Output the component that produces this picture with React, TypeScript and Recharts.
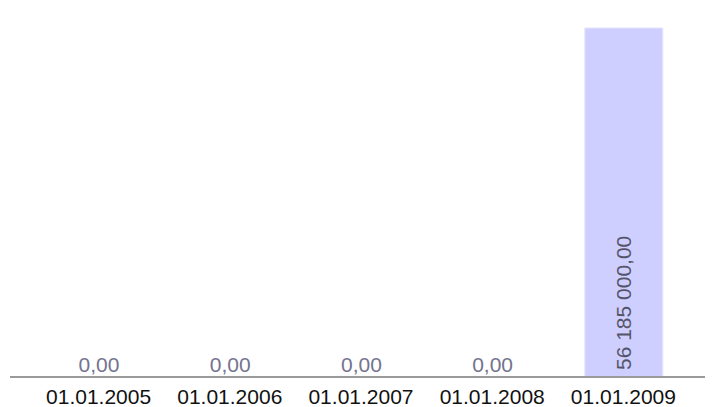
import { BarChart, Bar, XAxis, YAxis, LabelList } from "recharts";

const dates = ["01.01.2005", "01.01.2006", "01.01.2007", "01.01.2008", "01.01.2009"];
const amounts = [0, 0, 0, 0, 56185000];

const data = dates.map((d, i) => ({ date: d, amount: amounts[i] }));

const FONT = "'Liberation Sans', Arial, sans-serif";

// 56185000 -> "56 185 000,00"
const fmt = (v: number) => {
  const [int, dec] = v.toFixed(2).split(".");
  return int.replace(/\B(?=(\d{3})+(?!\d))/g, " ") + "," + dec;
};

const ValueLabel = (props: any) => {
  const { x, y, width, height, value } = props;
  const cx = x + width / 2;
  if (value > 0) {
    const by = y + height - 7;
    return (
      <text
        x={cx + 7.5}
        y={by}
        transform={`rotate(-90, ${cx + 7.5}, ${by})`}
        textAnchor="start"
        fontFamily={FONT}
        fontSize={21}
        fill="#55556a"
      >
        {fmt(value)}
      </text>
    );
  }
  return (
    <text x={cx} y={y + height - 5} textAnchor="middle" fontFamily={FONT} fontSize={21} fill="#73738f">
      {fmt(value)}
    </text>
  );
};

export default function App() {
  return (
    <BarChart width={705} height={399} data={data} margin={{ top: 20, right: 0, bottom: 0, left: 2 }}>
      <XAxis
        dataKey="date"
        height={30}
        padding={{ left: 23, right: 24 }}
        tickLine={false}
        tickSize={0}
        tickMargin={12}
        interval={0}
        axisLine={{ stroke: "#9a9a9a", strokeWidth: 2 }}
        tick={{ fill: "#111", fontSize: 21, fontFamily: FONT }}
      />
      <YAxis hide domain={[0, "dataMax"]} />
      <Bar
        dataKey="amount"
        fill="#cfcfff"
        stroke="#e4e4ff"
        barSize={78}
        minPointSize={0.01}
        isAnimationActive={false}
      >
        <LabelList dataKey="amount" content={ValueLabel} />
      </Bar>
    </BarChart>
  );
}
